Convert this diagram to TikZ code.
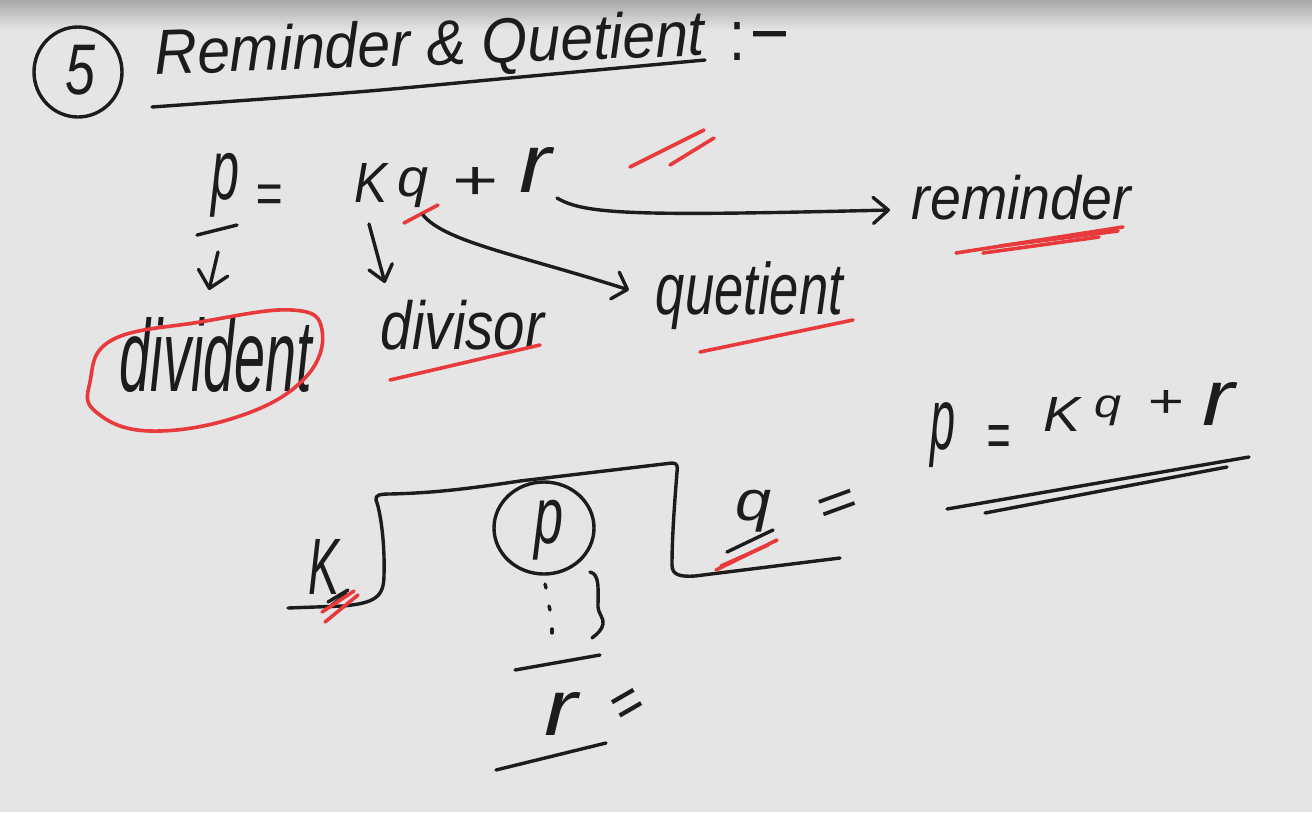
\documentclass[tikz,border=0pt]{standalone}
\usepackage{fontspec}
\setmainfont{Liberation Sans}
\usepackage{graphicx}
\usetikzlibrary{arrows.meta,shapes.geometric}
\definecolor{bg}{HTML}{E5E5E5}
\definecolor{shadetop}{HTML}{A8A8A8}
\definecolor{ink}{HTML}{1C1C1C}
\definecolor{pen}{HTML}{E8393C}
\newcommand{\fit}[3]{\resizebox*{#1pt}{#2pt}{\itshape #3}}
\newcommand{\fitu}[3]{\resizebox*{#1pt}{#2pt}{#3}}
\begin{document}
\begin{tikzpicture}[x=1pt,y=-1pt,
  stroke/.style={draw=ink,line width=3.4pt,line cap=round,line join=round},
  redstroke/.style={draw=pen,line width=3.6pt,line cap=round,line join=round},
  hand/.style={inner sep=0pt,outer sep=0pt,text=ink},
  headA/.style={-{Straight Barb[round,length=13pt,width=28pt]}},
  headB/.style={-{Straight Barb[round,length=15pt,width=26pt]}}]
\useasboundingbox (0,0) rectangle (1312,812);
\fill[bg] (0,0) rectangle (1312,812);
\shade[top color=shadetop,bottom color=bg] (0,0) rectangle (1312,30);

% ---------- heading ----------
\node[hand] (five) at (81,70) {\fit{30}{50}{5}};
\node[ellipse,draw=ink,line width=3.4pt,minimum width=88pt,minimum height=90pt,inner sep=0pt] (c5) at (78,72) {};
\node[hand,rotate=2] (title) at (430,48) {\fit{550}{58}{Reminder \& Quetient}};
\node[hand] (colon) at (737,41) {\fitu{16}{38}{:}};
\node[hand] (dash) at (770,41.5) {\fitu{45}{21}{-}};
\draw[stroke] plot[smooth] coordinates {(152,107) (357,92) (510,78) (705,60)};

% ---------- first formula ----------
\node[hand] (p1) at (226,185) {\fit{28}{64}{p}};
\node[hand,anchor=south] (eq1) at (269,213.5) {\fit{27}{28.5}{=}};
\node[hand] (K1) at (371.5,182.5) {\fit{33}{39}{K}};
\node[hand] (q1) at (412.5,188) {\fit{31}{40}{q}};
\node[hand,anchor=south] (plus1) at (474,199.3) {\fit{46}{32}{+}};
\node[hand] (r1) at (536,169.5) {\fit{32}{45}{r}};

\draw[stroke] (197,235) -- (237,225);
\coordinate (pA) at (218,252);
\coordinate (pB) at (209,290);
\draw[stroke,-{Straight Barb[round,length=16pt,width=30pt]}] (pA) -- (pB);

\coordinate (kA) at (369,224);
\coordinate (kB) at (385,283);
\draw[stroke,-{Straight Barb[round,length=15pt,width=24pt]}] (kA) -- (kB);

\draw[redstroke] (404,223) -- (438,205);

\coordinate (qA) at (423,215);
\coordinate (qB) at (629,290);
\draw[stroke,headA] (qA) .. controls (445,242) and (520,255) .. (qB);

\coordinate (rA) at (557,198);
\coordinate (rB) at (890,210);
\draw[stroke,headB] (rA) .. controls (585,215) and (640,216) .. (rB);

\draw[redstroke] (630,167) -- (704,130);
\draw[redstroke] (670,165) -- (714,138);

% ---------- labels ----------
\node[hand] (rem) at (1021.5,197.5) {\fit{219}{45}{reminder}};
\draw[redstroke] (956,253) -- (1123,227);
\draw[redstroke] (983,253) -- (1099,237);
\draw[redstroke] (1000,246) -- (1118,231);

\node[hand] (quo) at (749.5,296) {\fit{187}{68}{quetient}};
\draw[redstroke] (700,352) -- (853,320);

\node[hand] (dvs) at (462.5,325) {\fit{163}{50}{divisor}};
\draw[redstroke] (390,380) -- (540,345);

\node[hand] (dvd) at (216,355.5) {\fit{192}{75}{divident}};
\draw[redstroke] plot[smooth cycle,tension=0.7] coordinates
  {(90,382) (112,340) (200,322) (292,310) (322,330) (305,378) (240,416) (150,431) (96,412)};

% ---------- second formula ----------
\node[hand] (p2) at (942.5,435.5) {\fit{25}{65}{p}};
\node[hand,anchor=south] (eq2) at (998,457) {\fit{24}{32}{=}};
\node[hand] (K2) at (1061.5,414) {\fit{37}{34}{K}};
\node[hand] (q2) at (1107.5,411) {\fit{27}{30}{q}};
\node[hand,anchor=south] (plus2) at (1165,417.4) {\fit{36}{27}{+}};
\node[hand] (r2) at (1218.5,403.5) {\fit{32}{43}{r}};
\draw[stroke] (947,509) -- (1249,457);
\draw[stroke] (985,513) -- (1227,467);

% ---------- long division ----------
\node[hand] (K3) at (323.5,567) {\fit{31}{55}{K}};
\draw[stroke] (288,608) -- (343,606) .. controls (375,603) and (384,597) .. (384,575)
  .. controls (385,540) and (380,510) .. (376,500) .. controls (375,495) and (380,494) .. (390,494)
  .. controls (430,493) and (460,490) .. (520,481) -- (672,463)
  .. controls (677,463) and (678,466) .. (677,472) .. controls (674,510) and (672,540) .. (672,565)
  .. controls (672,575) and (680,577) .. (695,576) -- (840,558);
\draw[stroke] (328,602) -- (348,590);
\draw[stroke] (332,605) -- (346,594);
\draw[redstroke] (325,622) -- (358,595);
\draw[redstroke] (322,612) -- (354,591);

\node[hand] (p3) at (548.5,530) {\fit{29}{60}{p}};
\node[ellipse,draw=ink,line width=3.4pt,minimum width=100pt,minimum height=92pt,inner sep=0pt] (cp) at (544,528) {};
\draw[stroke] (545,584) -- (546,588);
\draw[stroke] (549,606) -- (550,610);
\draw[stroke] (552,629) -- (552,633);
\draw[stroke] (590,572) .. controls (600,574) and (598,590) .. (598,607)
  .. controls (599,615) and (604,618) .. (603,624) .. controls (602,630) and (597,634) .. (592,638);
\draw[stroke] (515,670) -- (600,655);
\node[hand] (r3) at (561,713.5) {\fit{33}{43}{r}};
\node[hand,rotate=30] (eq4) at (629,708) {\fit{30}{30}{=}};
\draw[stroke] (496,770) -- (606,743);

\node[hand] (q3) at (754,511) {\fit{36}{42}{q}};
\draw[stroke] (727,552) -- (773,530);
\draw[redstroke] (716,570) -- (777,540);
\draw[redstroke] (721,566) -- (768,545);
\node[hand,rotate=20] (eq3) at (838,507) {\fit{40}{26}{=}};
\end{tikzpicture}
\end{document}
